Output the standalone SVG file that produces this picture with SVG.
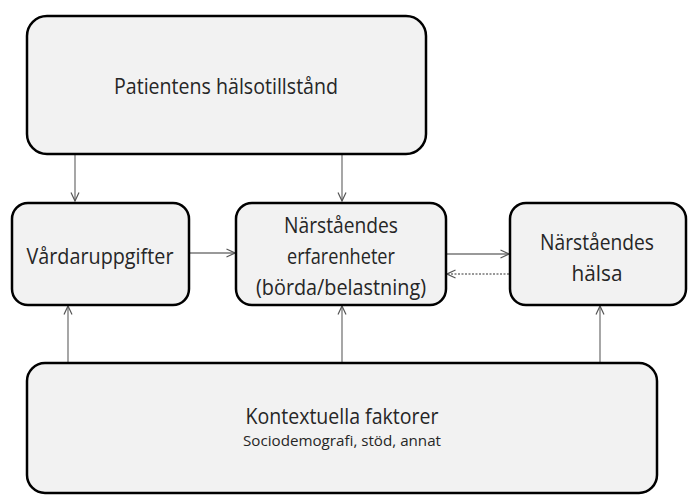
<svg xmlns="http://www.w3.org/2000/svg" width="688" height="495" viewBox="0 0 688 495">
<defs>
<style>
.box{fill:#f2f2f2;stroke:#000;stroke-width:2.5}
.t{font-family:"Open Sans","Liberation Sans",sans-serif;fill:#262626;text-anchor:middle}
.c{stroke:#777;stroke-width:1.3;fill:none;marker-end:url(#ah)}
.d{stroke-dasharray:2 1.5}
</style>
<marker id="ah" viewBox="0 0 10 10" refX="9.5" refY="5" markerWidth="10" markerHeight="10" markerUnits="userSpaceOnUse" orient="auto">
<path d="M1,1 L9.5,5 L1,9" fill="none" stroke="#555" stroke-width="1.2"/>
</marker>
</defs>
<rect width="688" height="495" fill="#fff"/>
<g id="connectors">
<line class="c" x1="75" y1="155" x2="75" y2="201"/>
<line class="c" x1="342" y1="155" x2="342" y2="201"/>
<line class="c" x1="190" y1="253" x2="235" y2="253"/>
<line class="c" x1="447" y1="254" x2="509" y2="254"/>
<line class="c d" x1="509" y1="274" x2="447" y2="274"/>
<line class="c" x1="68" y1="362" x2="68" y2="306"/>
<line class="c" x1="342" y1="362" x2="342" y2="306"/>
<line class="c" x1="600" y1="362" x2="600" y2="306"/>
</g>
<g id="patient">
<rect class="box" x="27" y="16" width="399" height="138" rx="20"/>
<text class="t" x="226" y="94" font-size="21" textLength="224" lengthAdjust="spacingAndGlyphs">Patientens hälsotillstånd</text>
</g>
<g id="vard">
<rect class="box" x="12" y="203" width="177" height="102" rx="16"/>
<text class="t" x="100" y="264" font-size="21" textLength="147" lengthAdjust="spacingAndGlyphs">Vårdaruppgifter</text>
</g>
<g id="erfarenheter">
<rect class="box" x="236" y="203" width="210" height="102" rx="16"/>
<text class="t" x="341" y="233" font-size="21" textLength="114" lengthAdjust="spacingAndGlyphs">Närståendes</text>
<text class="t" x="341" y="264" font-size="21" textLength="108" lengthAdjust="spacingAndGlyphs">erfarenheter</text>
<text class="t" x="341" y="295" font-size="21" textLength="170" lengthAdjust="spacingAndGlyphs">(börda/belastning)</text>
</g>
<g id="halsa">
<rect class="box" x="510" y="203" width="176" height="102" rx="16"/>
<text class="t" x="597" y="250" font-size="21" textLength="114" lengthAdjust="spacingAndGlyphs">Närståendes</text>
<text class="t" x="597" y="281" font-size="21" textLength="51" lengthAdjust="spacingAndGlyphs">hälsa</text>
</g>
<g id="kontext">
<rect class="box" x="27" y="363" width="630" height="130" rx="18"/>
<text class="t" x="342" y="424" font-size="21" textLength="193" lengthAdjust="spacingAndGlyphs">Kontextuella faktorer</text>
<text class="t" x="342" y="446" font-size="15" textLength="198" lengthAdjust="spacingAndGlyphs">Sociodemografi, stöd, annat</text>
</g>
</svg>
